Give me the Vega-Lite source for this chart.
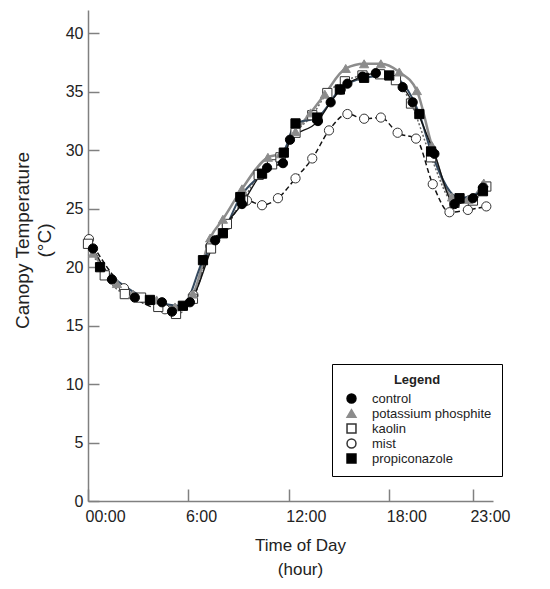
{
  "$schema": "https://vega.github.io/schema/vega-lite/v6.json",
  "width": 405,
  "height": 491,
  "autosize": "none",
  "padding": {"left": 88, "top": 10, "right": 57, "bottom": 88},
  "config": {
    "view": {"stroke": null},
    "font": "Liberation Sans",
    "axis": {
      "grid": false,
      "domainColor": "#808080",
      "domainWidth": 1.5,
      "tickColor": "#808080",
      "tickWidth": 1.5,
      "labelColor": "#222222",
      "labelFontSize": 16,
      "labelFont": "Liberation Sans",
      "titleColor": "#222222",
      "titleFont": "Liberation Sans",
      "titleFontSize": 17,
      "titleFontWeight": "normal"
    }
  },
  "data": {
    "values": [
      {"treatment": "mist", "hour": 0.06, "temp": 22.4},
      {"treatment": "mist", "hour": 2.15, "temp": 18.2},
      {"treatment": "mist", "hour": 4.6, "temp": 16.4},
      {"treatment": "mist", "hour": 6.3, "temp": 17.6},
      {"treatment": "mist", "hour": 7.3, "temp": 21.8},
      {"treatment": "mist", "hour": 8.3, "temp": 23.6},
      {"treatment": "mist", "hour": 9.5, "temp": 25.7},
      {"treatment": "mist", "hour": 10.4, "temp": 25.3},
      {"treatment": "mist", "hour": 11.35, "temp": 25.9},
      {"treatment": "mist", "hour": 12.4, "temp": 27.6},
      {"treatment": "mist", "hour": 13.4, "temp": 29.3},
      {"treatment": "mist", "hour": 14.4, "temp": 31.7},
      {"treatment": "mist", "hour": 15.5, "temp": 33.1},
      {"treatment": "mist", "hour": 16.5, "temp": 32.7},
      {"treatment": "mist", "hour": 17.5, "temp": 32.8},
      {"treatment": "mist", "hour": 18.5, "temp": 31.5},
      {"treatment": "mist", "hour": 19.6, "temp": 31.0},
      {"treatment": "mist", "hour": 20.6, "temp": 27.1},
      {"treatment": "mist", "hour": 21.6, "temp": 24.7},
      {"treatment": "mist", "hour": 22.7, "temp": 24.9},
      {"treatment": "mist", "hour": 23.8, "temp": 25.2},
      {"treatment": "kaolin", "hour": 0.0, "temp": 22.0},
      {"treatment": "kaolin", "hour": 1.0, "temp": 19.3},
      {"treatment": "kaolin", "hour": 2.2, "temp": 17.7},
      {"treatment": "kaolin", "hour": 3.17, "temp": 17.4},
      {"treatment": "kaolin", "hour": 4.2, "temp": 16.6},
      {"treatment": "kaolin", "hour": 5.26, "temp": 16.0},
      {"treatment": "kaolin", "hour": 6.27, "temp": 17.3},
      {"treatment": "kaolin", "hour": 7.35, "temp": 21.6},
      {"treatment": "kaolin", "hour": 8.3, "temp": 23.7},
      {"treatment": "kaolin", "hour": 9.26, "temp": 25.7},
      {"treatment": "kaolin", "hour": 10.2, "temp": 27.9},
      {"treatment": "kaolin", "hour": 11.0, "temp": 28.8},
      {"treatment": "kaolin", "hour": 11.5, "temp": 29.4},
      {"treatment": "kaolin", "hour": 12.4, "temp": 31.5},
      {"treatment": "kaolin", "hour": 13.4, "temp": 33.0},
      {"treatment": "kaolin", "hour": 14.3, "temp": 34.9},
      {"treatment": "kaolin", "hour": 15.35, "temp": 35.9},
      {"treatment": "kaolin", "hour": 16.4, "temp": 36.4},
      {"treatment": "kaolin", "hour": 17.45, "temp": 36.5},
      {"treatment": "kaolin", "hour": 18.4, "temp": 36.0},
      {"treatment": "kaolin", "hour": 19.3, "temp": 34.0},
      {"treatment": "kaolin", "hour": 20.5, "temp": 29.4},
      {"treatment": "kaolin", "hour": 21.9, "temp": 25.5},
      {"treatment": "kaolin", "hour": 23.0, "temp": 25.7},
      {"treatment": "kaolin", "hour": 23.8, "temp": 26.9},
      {"treatment": "potassium phosphite", "hour": 0.3, "temp": 21.2},
      {"treatment": "potassium phosphite", "hour": 1.73, "temp": 18.6},
      {"treatment": "potassium phosphite", "hour": 2.7, "temp": 17.7},
      {"treatment": "potassium phosphite", "hour": 4.1, "temp": 17.2},
      {"treatment": "potassium phosphite", "hour": 5.2, "temp": 16.6},
      {"treatment": "potassium phosphite", "hour": 6.27, "temp": 17.7},
      {"treatment": "potassium phosphite", "hour": 7.3, "temp": 22.5},
      {"treatment": "potassium phosphite", "hour": 8.06, "temp": 24.1},
      {"treatment": "potassium phosphite", "hour": 9.2, "temp": 26.7},
      {"treatment": "potassium phosphite", "hour": 10.75, "temp": 29.4},
      {"treatment": "potassium phosphite", "hour": 11.5, "temp": 29.7},
      {"treatment": "potassium phosphite", "hour": 12.4, "temp": 31.6},
      {"treatment": "potassium phosphite", "hour": 13.3, "temp": 33.2},
      {"treatment": "potassium phosphite", "hour": 14.15, "temp": 34.8},
      {"treatment": "potassium phosphite", "hour": 15.4, "temp": 37.0},
      {"treatment": "potassium phosphite", "hour": 16.5, "temp": 37.4},
      {"treatment": "potassium phosphite", "hour": 17.5, "temp": 37.4},
      {"treatment": "potassium phosphite", "hour": 18.6, "temp": 36.7},
      {"treatment": "potassium phosphite", "hour": 19.65, "temp": 35.1},
      {"treatment": "potassium phosphite", "hour": 20.55, "temp": 30.4},
      {"treatment": "potassium phosphite", "hour": 21.75, "temp": 26.0},
      {"treatment": "potassium phosphite", "hour": 22.7, "temp": 25.8},
      {"treatment": "potassium phosphite", "hour": 23.65, "temp": 27.2},
      {"treatment": "propiconazole", "hour": 0.72, "temp": 20.0},
      {"treatment": "propiconazole", "hour": 3.7, "temp": 17.2},
      {"treatment": "propiconazole", "hour": 5.67, "temp": 16.7},
      {"treatment": "propiconazole", "hour": 6.87, "temp": 20.6},
      {"treatment": "propiconazole", "hour": 8.06, "temp": 22.9},
      {"treatment": "propiconazole", "hour": 9.1, "temp": 26.0},
      {"treatment": "propiconazole", "hour": 10.4, "temp": 28.0},
      {"treatment": "propiconazole", "hour": 11.7, "temp": 29.8},
      {"treatment": "propiconazole", "hour": 12.4, "temp": 32.3},
      {"treatment": "propiconazole", "hour": 13.7, "temp": 32.8},
      {"treatment": "propiconazole", "hour": 15.05, "temp": 35.2},
      {"treatment": "propiconazole", "hour": 16.5, "temp": 36.2},
      {"treatment": "propiconazole", "hour": 18.0, "temp": 36.4},
      {"treatment": "propiconazole", "hour": 19.8, "temp": 33.1},
      {"treatment": "propiconazole", "hour": 20.5, "temp": 29.9},
      {"treatment": "propiconazole", "hour": 22.2, "temp": 25.9},
      {"treatment": "propiconazole", "hour": 23.6, "temp": 26.5},
      {"treatment": "control", "hour": 0.3, "temp": 21.6},
      {"treatment": "control", "hour": 1.43, "temp": 18.95},
      {"treatment": "control", "hour": 2.8, "temp": 17.4},
      {"treatment": "control", "hour": 4.42, "temp": 17.0},
      {"treatment": "control", "hour": 5.02, "temp": 16.2},
      {"treatment": "control", "hour": 6.09, "temp": 17.0},
      {"treatment": "control", "hour": 7.6, "temp": 22.3},
      {"treatment": "control", "hour": 9.2, "temp": 25.4},
      {"treatment": "control", "hour": 10.7, "temp": 28.5},
      {"treatment": "control", "hour": 11.65, "temp": 28.9},
      {"treatment": "control", "hour": 12.07, "temp": 30.9},
      {"treatment": "control", "hour": 13.74, "temp": 32.5},
      {"treatment": "control", "hour": 14.5, "temp": 34.1},
      {"treatment": "control", "hour": 15.1, "temp": 35.2},
      {"treatment": "control", "hour": 15.5, "temp": 35.7},
      {"treatment": "control", "hour": 16.4, "temp": 36.3},
      {"treatment": "control", "hour": 17.2, "temp": 36.6},
      {"treatment": "control", "hour": 18.8, "temp": 35.4},
      {"treatment": "control", "hour": 19.4, "temp": 34.1},
      {"treatment": "control", "hour": 20.7, "temp": 29.7},
      {"treatment": "control", "hour": 21.9, "temp": 25.4},
      {"treatment": "control", "hour": 23.0, "temp": 25.9},
      {"treatment": "control", "hour": 23.6, "temp": 26.8}
    ]
  },
  "encoding": {
    "x": {
      "field": "hour",
      "type": "quantitative",
      "scale": {"domain": [0, 24.2], "nice": false, "zero": false},
      "axis": {
        "values": [0, 6, 12, 18, 23],
        "labelExpr": "datum.value == 0 ? '00:00' : datum.value + ':00'",
        "labelAlign": "left",
        "labelFlush": false,
        "labelOffset": -3,
        "tickSize": -12,
        "labelPadding": 19,
        "title": ["Time of Day", "(hour)"],
        "titleX": 212,
        "titleY": 36,
        "titleBaseline": "top",
        "titleLineHeight": 24
      }
    },
    "y": {
      "field": "temp",
      "type": "quantitative",
      "scale": {"domain": [0, 42], "nice": false},
      "axis": {
        "values": [0, 5, 10, 15, 20, 25, 30, 35, 40],
        "tickSize": -11,
        "labelPadding": 16,
        "title": ["Canopy Temperature", "(°C)"],
        "titleFontSize": 19,
        "titleX": -75,
        "titleY": 230,
        "titleAngle": -90,
        "titleAlign": "center",
        "titleBaseline": "top",
        "titleLineHeight": 22
      }
    }
  },
  "layer": [
    {
      "transform": [{"filter": "datum.treatment === 'mist'"}],
      "mark": {"type": "line", "interpolate": "monotone", "color": "#111111", "strokeWidth": 1.5, "strokeDash": [5, 3]}
    },
    {
      "transform": [{"filter": "datum.treatment === 'kaolin'"}],
      "mark": {"type": "line", "interpolate": "monotone", "color": "#666666", "strokeWidth": 1.5, "strokeDash": [2, 2]}
    },
    {
      "transform": [{"filter": "datum.treatment === 'potassium phosphite'"}],
      "mark": {"type": "line", "interpolate": "monotone", "color": "#8c8c8c", "strokeWidth": 2.5}
    },
    {
      "transform": [{"filter": "datum.treatment === 'propiconazole'"}],
      "mark": {"type": "line", "interpolate": "monotone", "color": "#34495e", "strokeWidth": 2}
    },
    {
      "transform": [{"filter": "datum.treatment === 'control'"}],
      "mark": {"type": "line", "interpolate": "monotone", "color": "#111111", "strokeWidth": 1.3}
    },
    {
      "mark": {"type": "point", "size": 85, "opacity": 1, "strokeWidth": 1},
      "encoding": {
        "shape": {
          "field": "treatment",
          "type": "nominal",
          "scale": {
            "domain": ["control", "potassium phosphite", "kaolin", "mist", "propiconazole"],
            "range": ["circle", "triangle-up", "square", "circle", "square"]
          },
          "legend": {
            "title": "Legend",
            "orient": "none",
            "legendX": 244,
            "legendY": 354,
            "strokeColor": "black",
            "fillColor": "white",
            "padding": 10,
            "titleAnchor": "middle",
            "titleFontSize": 13,
            "titleFontWeight": "bold",
            "titleColor": "#222222",
            "titlePadding": 5,
            "labelFontSize": 13,
            "labelColor": "#222222",
            "labelOffset": 14,
            "symbolOffset": 3,
            "symbolSize": 80,
            "symbolOpacity": 1,
            "rowPadding": 0,
            "encode": {"legend": {"update": {"strokeWidth": {"value": 1.5}}}}
          }
        },
        "fill": {
          "field": "treatment",
          "type": "nominal",
          "scale": {
            "domain": ["control", "potassium phosphite", "kaolin", "mist", "propiconazole"],
            "range": ["#000000", "#8c8c8c", "#ffffff", "#ffffff", "#000000"]
          },
          "legend": {"title": "Legend"}
        },
        "stroke": {
          "field": "treatment",
          "type": "nominal",
          "scale": {
            "domain": ["control", "potassium phosphite", "kaolin", "mist", "propiconazole"],
            "range": ["#000000", "#8c8c8c", "#333333", "#333333", "#000000"]
          },
          "legend": {"title": "Legend"}
        }
      }
    }
  ]
}
